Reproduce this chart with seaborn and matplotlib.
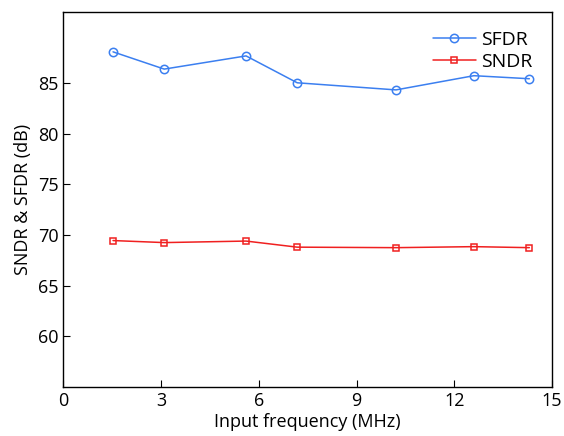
import matplotlib
matplotlib.use("Agg")
import matplotlib.pyplot as plt
import seaborn as sns
import pandas as pd

freq = [1.53, 3.1, 5.61, 7.18, 10.21, 12.6, 14.3]
sfdr = [88.05, 86.35, 87.65, 85.0, 84.3, 85.7, 85.4]
sndr = [69.45, 69.25, 69.4, 68.8, 68.75, 68.85, 68.75]

sns.set_style("ticks")
plt.rcParams['font.family'] = ['Open Sans', 'DejaVu Sans']
plt.rcParams['text.color'] = 'black'
plt.rcParams['axes.labelcolor'] = 'black'
plt.rcParams['xtick.color'] = 'black'
plt.rcParams['ytick.color'] = 'black'
plt.rcParams['axes.edgecolor'] = 'black'

df = pd.DataFrame({"freq": freq * 2, "val": sfdr + sndr,
                   "kind": ["SFDR"] * len(freq) + ["SNDR"] * len(freq)})

fig, ax = plt.subplots(figsize=(5.64, 4.36), dpi=100)
sns.lineplot(data=df, x="freq", y="val", hue="kind", style="kind",
             palette={"SFDR": "#3b7ff0", "SNDR": "#f02020"},
             markers={"SFDR": "o", "SNDR": "s"}, dashes=False,
             markeredgewidth=1.1, linewidth=1.1, ax=ax)
ms = {"SFDR": 6, "SNDR": 4.5}
for line, k in zip(ax.lines, ["SFDR", "SNDR"]):
    line.set_markerfacecolor("none")
    line.set_markeredgecolor(line.get_color())
    line.set_markersize(ms[k])

ax.set_xlim(0, 15)
ax.set_ylim(55, 92)
ax.set_xticks([0, 3, 6, 9, 12, 15])
ax.set_yticks([60, 65, 70, 75, 80, 85])
ax.tick_params(direction="in", length=5, labelsize=13, top=False, right=False)
for s in ax.spines.values():
    s.set_visible(True)
    s.set_linewidth(1.0)
ax.set_xlabel("Input frequency (MHz)", fontsize=13, labelpad=2)
ax.set_ylabel("SNDR & SFDR (dB)", fontsize=13, labelpad=4)

h, l = ax.get_legend_handles_labels()
for hh, k in zip(h, l):
    hh.set_markerfacecolor("none")
    hh.set_markeredgecolor(hh.get_color())
    hh.set_markersize(ms[k])
ax.legend(h, l, loc="upper right", frameon=False, fontsize=14,
          handlelength=2.2, handletextpad=0.3, labelspacing=0.2,
          borderaxespad=0.6)

fig.subplots_adjust(left=0.112, right=0.979, top=0.973, bottom=0.112)
fig.savefig("out.png", dpi=100)
